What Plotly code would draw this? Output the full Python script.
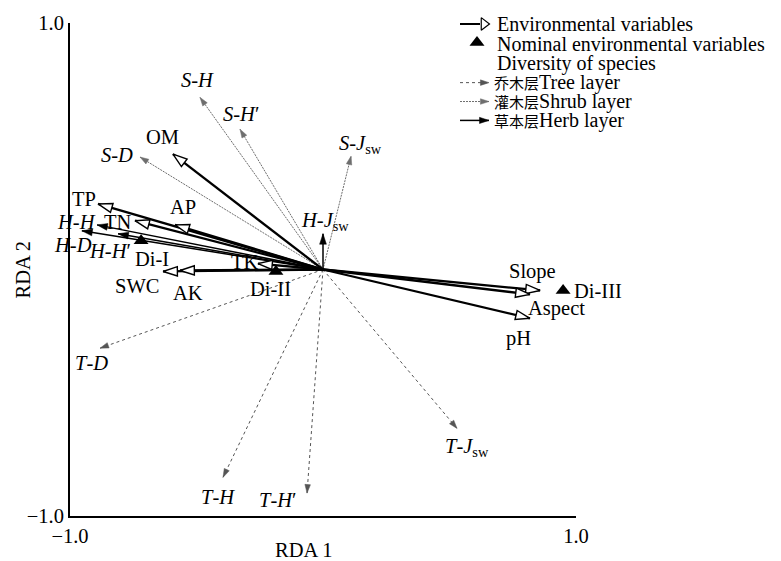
import math
import plotly.graph_objects as go

# ---------------- data (RDA1, RDA2 scores) ----------------
env_names = ["OM", "TP", "TN", "AP", "TK", "SWC", "AK", "Slope", "Aspect", "pH"]
env_rda1 = [-0.593, -0.889, -0.743, -0.585, -0.257, -0.632, -0.565, 0.858, 0.818, 0.818]
env_rda2 = [0.468, 0.266, 0.198, 0.181, 0.024, -0.008, -0.004, -0.085, -0.101, -0.198]

nominal_names = ["Di-I", "Di-II", "Di-III"]
nominal_rda1 = [-0.719, -0.186, 0.949]
nominal_rda2 = [0.117, -0.008, -0.085]

herb_names = ["<i>H</i>-<i>H</i>", "<i>H</i>-<i>D</i>", "<i>H</i>-<i>H</i>′", "<i>H</i>-<i>J</i><sub>sw</sub>"]
herb_rda1 = [-0.893, -0.953, -0.810, 0.000]
herb_rda2 = [0.181, 0.157, 0.145, 0.145]

tree_names = ["<i>T</i>-<i>D</i>", "<i>T</i>-<i>H</i>", "<i>T</i>-<i>H</i>′", "<i>T</i>-<i>J</i><sub>sw</sub>"]
tree_rda1 = [-0.881, -0.395, -0.063, 0.530]
tree_rda2 = [-0.319, -0.843, -0.907, -0.645]

shrub_names = ["<i>S</i>-<i>H</i>", "<i>S</i>-<i>H</i>′", "<i>S</i>-<i>D</i>", "<i>S</i>-<i>J</i><sub>sw</sub>"]
shrub_rda1 = [-0.486, -0.328, -0.723, 0.111]
shrub_rda2 = [0.698, 0.569, 0.456, 0.460]

axis_ticks = [-1.0, 1.0]
axis_ticktext = ["−1.0", "1.0"]

legend_labels = [
    "Environmental variables",
    "Nominal environmental variables",
    "Diversity of species",
    '<span style="font-size:15px">乔木层</span>Tree layer',
    '<span style="font-size:15px">灌木层</span>Shrub layer',
    '<span style="font-size:15px">草本层</span>Herb layer',
]

# ---------------- label placement (pixel offsets from arrow tips) ----------------
env_shift = [(-10, 17), (-14, 5), (-17, -1), (8, 18), (-13, 2), (-26, -15),
             (8, -23), (-8, 19), (27, -14), (-11, -20)]
nominal_shift = [(11, -18), (-5, -18), (35, -1)]
herb_shift = [(-21, 3), (-9, -14), (-8, -17), (2, 12)]
tree_shift = [(-9, -15), (-5, -20), (-29, -7), (10, -19)]
shrub_shift = [(-3, 17), (1, 15), (-23, 2), (9, 12)]

# ---------------- layout geometry ----------------
W, H = 781, 561
ML, MR, MT, MB = 70, 205, 20, 45
PW, PH = W - ML - MR, H - MT - MB
SX, SY = PW / 2.0, PH / 2.0  # pixels per data unit

FONT = "Liberation Serif, Times New Roman, Noto Sans CJK SC, serif"
FS = 20.5
LFS = 20

fig = go.Figure()


def add_arrows(xs, ys, color, width, dash, head_size, head_fill, head_line_w):
    lx, ly = [], []
    for x, y in zip(xs, ys):
        lx += [0, x, None]
        ly += [0, y, None]
    fig.add_trace(go.Scatter(x=lx, y=ly, mode="lines",
                             line=dict(color=color, width=width, dash=dash),
                             hoverinfo="skip", showlegend=False, xaxis="x", yaxis="y"))
    angs = [math.degrees(math.atan2(x * SX, y * SY)) for x, y in zip(xs, ys)]
    fig.add_trace(go.Scatter(x=xs, y=ys, mode="markers", cliponaxis=False,
                             marker=dict(symbol="arrow", size=head_size, angle=angs,
                                         color=head_fill,
                                         line=dict(color=color, width=head_line_w)),
                             hoverinfo="skip", showlegend=False, xaxis="x", yaxis="y"))


def add_labels(names, xs, ys, shifts):
    for n, x, y, (dx, dy) in zip(names, xs, ys, shifts):
        fig.add_annotation(x=x, y=y, xref="x", yref="y", text=n, showarrow=False,
                           xshift=dx, yshift=dy, xanchor="center", yanchor="middle",
                           font=dict(family=FONT, size=FS, color="black"))


# tree layer (dotted grey)
add_arrows(tree_rda1, tree_rda2, "#555555", 1, "3px,3px", 9, "#555555", 0.5)
# shrub layer (fine dotted grey)
add_arrows(shrub_rda1, shrub_rda2, "#6e6e6e", 1, "2px,1px", 9, "#6e6e6e", 0.5)
# herb layer (thin black)
add_arrows(herb_rda1, herb_rda2, "black", 1.5, "solid", 11, "black", 0.5)
# environmental variables (thick black, open heads)
add_arrows(env_rda1, env_rda2, "black", 2.3, "solid", 15, "white", 1.4)

# nominal environmental variables
fig.add_trace(go.Scatter(x=nominal_rda1, y=nominal_rda2, mode="markers", cliponaxis=False,
                         marker=dict(symbol="triangle-up", size=13, color="black"),
                         hoverinfo="skip", showlegend=False, xaxis="x", yaxis="y"))

add_labels(env_names, env_rda1, env_rda2, env_shift)
add_labels(nominal_names, nominal_rda1, nominal_rda2, nominal_shift)
add_labels(herb_names, herb_rda1, herb_rda2, herb_shift)
add_labels(tree_names, tree_rda1, tree_rda2, tree_shift)
add_labels(shrub_names, shrub_rda1, shrub_rda2, shrub_shift)

# ---------------- custom legend on an overlay axis in paper-like units ----------------
def px_x(p):
    return (p - ML) / PW


def px_y(p):
    return (MT + PH - p) / PH


rows_y = [21, 41, 61, 80, 99, 118]
# samples
fig.add_trace(go.Scatter(x=[px_x(460), px_x(480)], y=[px_y(rows_y[0])] * 2, mode="lines",
                         line=dict(color="black", width=2), xaxis="x2", yaxis="y2",
                         cliponaxis=False, hoverinfo="skip", showlegend=False))
fig.add_trace(go.Scatter(x=[px_x(484)], y=[px_y(rows_y[0])], mode="markers",
                         marker=dict(symbol="triangle-right", size=11, color="white",
                                     line=dict(color="black", width=1.2)),
                         xaxis="x2", yaxis="y2", cliponaxis=False,
                         hoverinfo="skip", showlegend=False))
fig.add_trace(go.Scatter(x=[px_x(477)], y=[px_y(rows_y[1]) + 0.003], mode="markers",
                         marker=dict(symbol="triangle-up", size=13, color="black"),
                         xaxis="x2", yaxis="y2", cliponaxis=False,
                         hoverinfo="skip", showlegend=False))
sample_styles = [("#555555", 1, "dot", "#555555", 9),
                 ("#6e6e6e", 1, "2px,1px", "#6e6e6e", 9),
                 ("black", 1.5, "solid", "black", 10)]
for (col, w, dsh, hc, hs), ry in zip(sample_styles, rows_y[3:]):
    fig.add_trace(go.Scatter(x=[px_x(460), px_x(489)], y=[px_y(ry)] * 2, mode="lines",
                             line=dict(color=col, width=w, dash=dsh), xaxis="x2", yaxis="y2",
                             cliponaxis=False, hoverinfo="skip", showlegend=False))
    fig.add_trace(go.Scatter(x=[px_x(489)], y=[px_y(ry)], mode="markers",
                             marker=dict(symbol="arrow", size=hs, angle=[90], color=hc,
                                         line=dict(color=hc, width=0.5)),
                             xaxis="x2", yaxis="y2", cliponaxis=False,
                             hoverinfo="skip", showlegend=False))

legend_x = [495, 495, 495, 492, 492, 492]
for lab, ry, lx in zip(legend_labels, rows_y, legend_x):
    fig.add_annotation(x=px_x(lx), y=px_y(ry), xref="x2", yref="y2", text=lab,
                       showarrow=False, xanchor="left", yanchor="middle",
                       font=dict(family=FONT, size=LFS, color="black"))

# axis titles
fig.add_annotation(x=px_x(304), y=px_y(550), xref="paper", yref="paper", text="RDA 1",
                   showarrow=False, xanchor="center", yanchor="middle",
                   font=dict(family=FONT, size=FS, color="black"))
fig.add_annotation(x=px_x(22), y=px_y(268), xref="paper", yref="paper", text="RDA 2",
                   showarrow=False, xanchor="center", yanchor="middle", textangle=-90,
                   font=dict(family=FONT, size=FS, color="black"))

axis_common = dict(range=[-1, 1], showgrid=False, zeroline=False, showline=True,
                   linecolor="black", linewidth=2, ticks="inside", ticklen=7,
                   tickwidth=2, tickcolor="black", tickvals=axis_ticks,
                   ticktext=axis_ticktext, mirror=False,
                   tickfont=dict(family=FONT, size=FS, color="black"), fixedrange=True)

fig.update_layout(
    width=W, height=H,
    margin=dict(l=ML, r=MR, t=MT, b=MB, pad=0),
    paper_bgcolor="white", plot_bgcolor="white",
    showlegend=False,
    xaxis=dict(**axis_common),
    yaxis=dict(**axis_common),
    xaxis2=dict(range=[0, 1], overlaying="x", visible=False, fixedrange=True),
    yaxis2=dict(range=[0, 1], overlaying="y", visible=False, fixedrange=True),
    font=dict(family=FONT, size=FS, color="black"),
)

fig.write_html("out.html")
